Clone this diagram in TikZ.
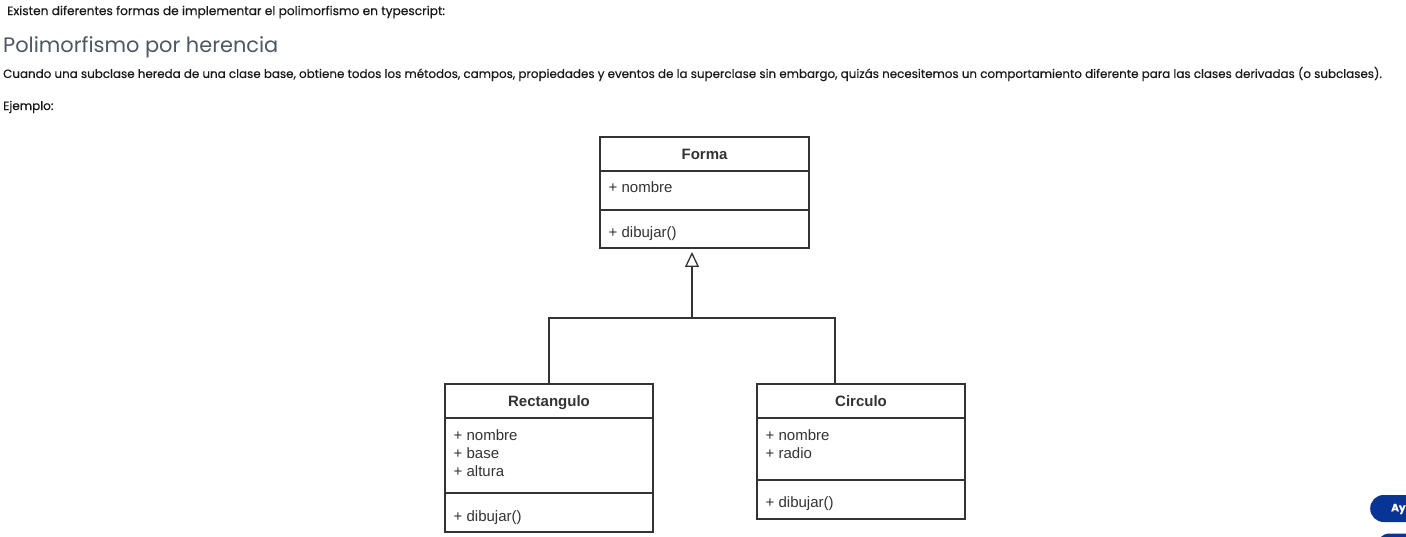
\documentclass[tikz,border=0pt]{standalone}
\usepackage{fontspec}
\setmainfont{Poppins}[FakeBold=0.4]
\newfontfamily\titlefont{Poppins}
\newfontfamily\umlfont{Liberation Sans}
\usetikzlibrary{positioning}
\usetikzlibrary{arrows.meta}
\definecolor{headgray}{RGB}{78,88,99}
\definecolor{bodyblack}{RGB}{25,25,25}
\definecolor{umlline}{RGB}{51,51,51}
\definecolor{btnblue}{RGB}{8,52,150}

\tikzset{
  pagetext/.style={anchor=west, inner sep=0pt, text=bodyblack, font=\fontsize{12}{14}\selectfont},
  umlbox/.style={draw=umlline, line width=1.3pt, minimum width=209pt, inner sep=0pt, outer sep=0pt},
  umlhead/.style={umlbox, minimum height=34pt, text height=11pt, text depth=0pt, text=black!80, font=\umlfont\bfseries\fontsize{15}{18}\selectfont},
  umlitem/.style={anchor=base west, inner sep=0pt, text=black!80, font=\umlfont\fontsize{15}{18}\selectfont},
  inherit/.style={draw=umlline, line width=1.3pt},
  helpbtn/.style={fill=btnblue, rounded corners=13.5pt, minimum width=80pt, minimum height=27pt, inner sep=0pt, anchor=west}
}

\begin{document}
\begin{tikzpicture}[x=1pt,y=-1pt]
  \clip (0,0) rectangle (1406,537);
  \fill[white] (0,0) rectangle (1406,537);
  % Page text
  \node[pagetext, font=\fontsize{12.2}{14}\selectfont] (intro) at (7,12) {Existen diferentes formas de implementar el polimorfismo en typescript:};
  \node[pagetext, text=headgray, font=\titlefont\fontsize{20.9}{24}\selectfont] (titulo) at (3,47) {Polimorfismo por herencia};
  \node[pagetext, font=\fontsize{11.9}{14}\selectfont] (parrafo) at (3,74) {Cuando una subclase hereda de una clase base, obtiene todos los métodos, campos, propiedades y eventos de la superclase sin embargo, quizás necesitemos un comportamiento diferente para las clases derivadas (o subclases).};
  \node[pagetext] (ejemplo) at (3,107) {Ejemplo:};
  % Base class
  \node[umlhead] (formahead) at (704.5,154) {Forma};
  \node[umlbox, minimum height=39pt, below=0pt of formahead] (formaattr) {};
  \node[umlbox, minimum height=38pt, below=0pt of formaattr] (formameth) {};
  \node[umlitem] (formanombre) at ([shift={(8.5,22)}]formaattr.north west) {+ nombre};
  \node[umlitem] (formadibujar) at ([shift={(8.5,28)}]formameth.north west) {+ dibujar()};
  % Subclass Rectangulo
  \node[umlhead, minimum width=208pt] (recthead) at (549,401) {Rectangulo};
  \node[umlbox, minimum width=208pt, minimum height=75pt, below=0pt of recthead] (rectattr) {};
  \node[umlbox, minimum width=208pt, minimum height=39pt, below=0pt of rectattr] (rectmeth) {};
  \node[umlitem] (rectnombre) at ([shift={(8.5,22)}]rectattr.north west) {+ nombre};
  \node[umlitem] (rectbase) at ([shift={(0,18)}]rectnombre.base west) {+ base};
  \node[umlitem] (rectaltura) at ([shift={(0,18)}]rectbase.base west) {+ altura};
  \node[umlitem] (rectdibujar) at ([shift={(8.5,28)}]rectmeth.north west) {+ dibujar()};
  % Subclass Circulo
  \node[umlhead, minimum width=208pt] (circhead) at (861,401) {Circulo};
  \node[umlbox, minimum width=208pt, minimum height=62pt, below=0pt of circhead] (circattr) {};
  \node[umlbox, minimum width=208pt, minimum height=39pt, below=0pt of circattr] (circmeth) {};
  \node[umlitem] (circnombre) at ([shift={(8.5,22)}]circattr.north west) {+ nombre};
  \node[umlitem] (circradio) at ([shift={(0,18)}]circnombre.base west) {+ radio};
  \node[umlitem] (circdibujar) at ([shift={(8.5,27)}]circmeth.north west) {+ dibujar()};
  % Inheritance (open triangle points at the base class)
  \coordinate (bus) at (692,318);
  \draw[inherit] (recthead.north) |- (bus) -| ([xshift=-26pt]circhead.north);
  \draw[inherit, -{Triangle[open, length=15pt, width=14pt, line width=1.3pt]}] (bus) -- ([shift={(-12.5,4)}]formameth.south);
  % Help button at the page corner
  \node[helpbtn] (ayuda) at (1370,508.5) {};
  \node[anchor=west, inner sep=0pt, text=white, font=\bfseries\fontsize{10.5}{13}\selectfont] (ayudatxt) at (1391,509) {Ay};
  \node[helpbtn] (otrobtn) at (1376,547) {};
\end{tikzpicture}
\end{document}
